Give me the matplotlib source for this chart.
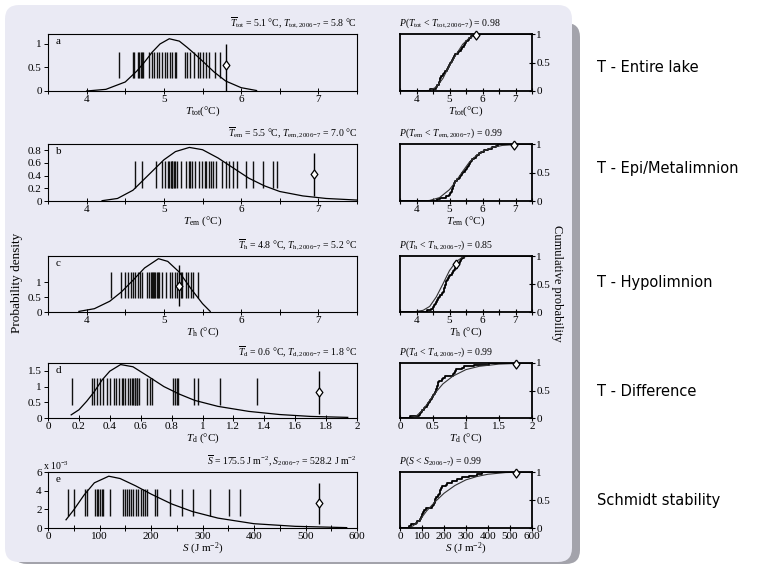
# bootstrap distributions of lake temperature and Schmidt stability

import matplotlib.pyplot as plt
import numpy as np
from matplotlib.patches import FancyBboxPatch
from matplotlib.transforms import IdentityTransform

plt.rcParams['font.family'] = 'Liberation Serif'
plt.rcParams['mathtext.fontset'] = 'custom'
plt.rcParams['mathtext.rm'] = 'Liberation Serif'
plt.rcParams['mathtext.it'] = 'Liberation Serif:italic'
plt.rcParams['font.size'] = 8

# ---- data ----
# sampled values (rug lines)
tot_samples = [4.42, 4.60, 4.61, 4.67, 4.68, 4.70, 4.72, 4.73, 4.81, 4.84, 4.87, 4.91, 4.94,
               4.97, 5.01, 5.04, 5.08, 5.10, 5.14, 5.16, 5.27, 5.30, 5.34, 5.39, 5.44, 5.47,
               5.51, 5.55, 5.59, 5.66, 5.73]
em_samples = [4.62, 4.72, 4.90, 4.98, 5.02, 5.05, 5.07, 5.09, 5.10, 5.11, 5.13, 5.15, 5.17,
              5.22, 5.29, 5.32, 5.34, 5.37, 5.40, 5.46, 5.49, 5.53, 5.55, 5.58, 5.61, 5.64,
              5.68, 5.75, 5.81, 5.84, 5.90, 5.95, 6.06, 6.16, 6.28, 6.41, 6.46]
h_samples = [4.31, 4.45, 4.50, 4.54, 4.57, 4.60, 4.63, 4.66, 4.69, 4.72, 4.78, 4.81, 4.83,
             4.84, 4.86, 4.875, 4.89, 4.905, 4.92, 4.94, 4.97, 5.03, 5.08, 5.11, 5.15, 5.17,
             5.22, 5.24, 5.28, 5.31, 5.35, 5.38, 5.44]
d_samples = [0.158, 0.288, 0.298, 0.314, 0.335, 0.357, 0.383, 0.404, 0.426, 0.443, 0.458,
             0.476, 0.486, 0.499, 0.515, 0.530, 0.541, 0.551, 0.560, 0.566, 0.573, 0.579,
             0.586, 0.638, 0.659, 0.675, 0.806, 0.822, 0.832, 0.843, 0.945, 0.973, 1.114, 1.351]
s_samples = [39, 50, 71, 76, 92, 95, 98, 101, 104, 107, 120, 145, 149, 153, 157, 161, 165,
             171, 175, 180, 184, 188, 193, 208, 212, 237, 261, 282, 315, 351, 373]

# fitted probability densities (s density in units of 1e-3)
tot_pdf_x = [4.0, 4.25, 4.5, 4.65, 4.75, 4.85, 4.95, 5.07, 5.2, 5.3, 5.4, 5.5, 5.65, 5.8, 6.0, 6.2]
tot_pdf_y = [0.0, 0.035, 0.19, 0.42, 0.61, 0.82, 0.99, 1.10, 1.05, 0.92, 0.78, 0.63, 0.40, 0.21, 0.07, 0.01]
em_pdf_x = [4.2, 4.4, 4.6, 4.8, 5.0, 5.15, 5.33, 5.5, 5.7, 5.9, 6.1, 6.3, 6.5, 6.8, 7.1, 7.5]
em_pdf_y = [0.005, 0.04, 0.17, 0.41, 0.65, 0.78, 0.846, 0.81, 0.68, 0.52, 0.36, 0.24, 0.15, 0.08, 0.04, 0.015]
h_pdf_x = [3.9, 4.1, 4.3, 4.45, 4.6, 4.75, 4.93, 5.05, 5.2, 5.35, 5.5, 5.6]
h_pdf_y = [0.02, 0.11, 0.36, 0.67, 1.06, 1.47, 1.78, 1.69, 1.33, 0.78, 0.28, 0.02]
d_pdf_x = [0.15, 0.2, 0.25, 0.3, 0.35, 0.4, 0.47, 0.55, 0.65, 0.75, 0.85, 0.95, 1.1, 1.3, 1.5, 1.7, 1.94]
d_pdf_y = [0.1, 0.26, 0.53, 0.84, 1.21, 1.49, 1.70, 1.63, 1.32, 1.0, 0.76, 0.56, 0.37, 0.21, 0.11, 0.05, 0.02]
s_pdf_x = [35, 50, 70, 90, 118, 140, 170, 200, 240, 280, 330, 400, 480, 580]
s_pdf_y = [0.88, 1.94, 3.53, 4.84, 5.55, 5.30, 4.52, 3.64, 2.58, 1.77, 1.06, 0.46, 0.18, 0.04]

# fitted cumulative distributions
tot_cdf_x = [4.0, 4.4, 4.6, 4.8, 5.0, 5.2, 5.4, 5.6, 5.8, 6.0, 6.2]
tot_cdf_y = [0.0, 0.01, 0.07, 0.22, 0.45, 0.64, 0.82, 0.93, 0.98, 0.995, 1.0]
em_cdf_x = [4.2, 4.4, 4.7, 5.0, 5.2, 5.4, 5.6, 5.8, 6.0, 6.3, 6.6, 7.0, 7.5]
em_cdf_y = [0.0, 0.01, 0.06, 0.2, 0.35, 0.52, 0.68, 0.79, 0.87, 0.94, 0.975, 0.99, 1.0]
h_cdf_x = [3.9, 4.2, 4.4, 4.6, 4.8, 5.0, 5.2, 5.4, 5.6]
h_cdf_y = [0.0, 0.03, 0.1, 0.27, 0.5, 0.74, 0.9, 0.98, 1.0]
d_cdf_x = [0.15, 0.25, 0.35, 0.45, 0.55, 0.65, 0.8, 1.0, 1.2, 1.5, 1.94]
d_cdf_y = [0.0, 0.04, 0.15, 0.32, 0.48, 0.62, 0.76, 0.88, 0.94, 0.98, 1.0]
s_cdf_x = [35, 60, 90, 120, 160, 200, 250, 300, 350, 400, 480, 580]
s_cdf_y = [0.0, 0.04, 0.14, 0.3, 0.47, 0.62, 0.76, 0.86, 0.92, 0.96, 0.99, 1.0]

# 2006-7 observation: x, error bar low/high, marker height, and P(X < x_2006-7)
observed = [5.80, 6.94, 5.19, 1.756, 527]
obs_low = [0.0, 0.08, 0.20, 0.14, 0.46]
obs_high = [1.0, 0.76, 1.58, 1.49, 4.83]
obs_mid = [0.55, 0.42, 0.88, 0.82, 2.65]
obs_prob = [0.98, 0.99, 0.85, 0.99, 0.99]

# rug line extent
rug_low = [0.28, 0.21, 0.47, 0.40, 1.33]
rug_high = [0.82, 0.635, 1.33, 1.26, 4.13]

titles = [r'$\overline{T}_{\rm tot}$ = 5.1 °C, $T_{\rm tot,2006\!-\!7}$ = 5.8 °C',
          r'$\overline{T}_{\rm em}$ = 5.5 °C, $T_{\rm em,2006\!-\!7}$ = 7.0 °C',
          r'$\overline{T}_{\rm h}$ = 4.8 °C, $T_{\rm h,2006\!-\!7}$ = 5.2 °C',
          r'$\overline{T}_{\rm d}$ = 0.6 °C, $T_{\rm d,2006\!-\!7}$ = 1.8 °C',
          r'$\overline{S}$ = 175.5 J m$^{-2}$, $S_{2006\!-\!7}$ = 528.2 J m$^{-2}$']
prob_titles = [r'$P(T_{\rm tot}$ < $T_{\rm tot,2006\!-\!7})$ = 0.98',
               r'$P(T_{\rm em}$ < $T_{\rm em,2006\!-\!7})$ = 0.99',
               r'$P(T_{\rm h}$ < $T_{\rm h,2006\!-\!7})$ = 0.85',
               r'$P(T_{\rm d}$ < $T_{\rm d,2006\!-\!7})$ = 0.99',
               r'$P(S$ < $S_{2006\!-\!7})$ = 0.99']
xlabels = [r'$T_{\rm tot}$(°C)', r'$T_{\rm em}$ (°C)', r'$T_{\rm h}$ (°C)',
           r'$T_{\rm d}$ (°C)', r'$S$ (J m$^{-2}$)']
panel_letters = ['a', 'b', 'c', 'd', 'e']
row_names = ['T - Entire lake', 'T - Epi/Metalimnion', 'T - Hypolimnion',
             'T - Difference', 'Schmidt stability']

xlims = [(3.5, 7.5), (3.5, 7.5), (3.5, 7.5), (0, 2), (0, 600)]
ylims = [(0, 1.2), (0, 0.9), (0, 1.87), (0, 1.75), (0, 6)]
yticks = [[0, 0.5, 1], [0, 0.2, 0.4, 0.6, 0.8], [0, 0.5, 1], [0, 0.5, 1, 1.5], [0, 2, 4, 6]]
ytick_labels = [['0', '0.5', '1'], ['0', '0.2', '0.4', '0.6', '0.8'], ['0', '0.5', '1'],
                ['0', '0.5', '1', '1.5'], ['0', '2', '4', '6']]

samples = [tot_samples, em_samples, h_samples, d_samples, s_samples]
pdf_x = [tot_pdf_x, em_pdf_x, h_pdf_x, d_pdf_x, s_pdf_x]
pdf_y = [tot_pdf_y, em_pdf_y, h_pdf_y, d_pdf_y, s_pdf_y]
cdf_x = [tot_cdf_x, em_cdf_x, h_cdf_x, d_cdf_x, s_cdf_x]
cdf_y = [tot_cdf_y, em_cdf_y, h_cdf_y, d_cdf_y, s_cdf_y]

# ---- layout (pixels) ----
W, H = 763, 566
rows = [(34, 91), (144, 201), (256, 312), (363, 418), (472, 528)]
row_text_y = [67, 168, 283, 391, 500]

fig = plt.figure(figsize=(W / 100, H / 100), dpi=100)

# rounded background panel with shadow
shadow = FancyBboxPatch((13, 2), 567, 541, boxstyle='round,pad=0,rounding_size=14',
                        transform=IdentityTransform(), facecolor='#a3a3ab', edgecolor='none', zorder=-3)
panel = FancyBboxPatch((5, 4), 567, 557, boxstyle='round,pad=0,rounding_size=14',
                       transform=IdentityTransform(), facecolor='#eaeaf4', edgecolor='none', zorder=-2)
fig.add_artist(shadow)
fig.add_artist(panel)

diamond = [(0, 1), (0.75, 0), (0, -1), (-0.75, 0), (0, 1)]


def px_axes(x0, y0, x1, y1):
    return fig.add_axes([x0 / W, 1 - y1 / H, (x1 - x0) / W, (y1 - y0) / H])


def set_xticks(ax, i):
    if i < 3:
        ax.set_xticks([4, 5, 6, 7])
        ax.set_xticks(np.arange(3.5, 7.6, 0.5), minor=True)
    elif i == 3:
        ax.set_xticks(np.arange(0, 2.01, 0.2))
        ax.set_xticklabels(['0', '0.2', '0.4', '0.6', '0.8', '1', '1.2', '1.4', '1.6', '1.8', '2'])
    else:
        ax.set_xticks(np.arange(0, 601, 100))
        ax.set_xticks(np.arange(50, 600, 100), minor=True)


for i in range(5):
    y0, y1 = rows[i]

    # left: probability density with rug of samples
    ax = px_axes(48, y0, 357, y1)
    ax.set_facecolor('none')
    ax.vlines(samples[i], rug_low[i], rug_high[i], color='#111111', lw=1.0)
    ax.plot(pdf_x[i], pdf_y[i], color='k', lw=0.9)
    ax.vlines(observed[i], obs_low[i], obs_high[i], color='k', lw=1.0)
    ax.plot(observed[i], obs_mid[i], marker=diamond, ms=6.5, mfc='white', mec='k', mew=0.9)
    ax.set_xlim(xlims[i])
    ax.set_ylim(ylims[i])
    set_xticks(ax, i)
    ax.set_yticks(yticks[i])
    ax.set_yticklabels(ytick_labels[i])
    ax.tick_params(axis='x', which='both', direction='inout', length=4, width=0.7, pad=1)
    ax.tick_params(axis='y', direction='out', length=3, width=0.7, pad=1.5)
    for s in ax.spines.values():
        s.set_linewidth(0.8)
    ax.set_xlabel(xlabels[i], labelpad=0)
    ax.text(1.0, 1.07, titles[i], transform=ax.transAxes, ha='right', va='bottom', fontsize=7)
    ax.text(0.025, 0.86, panel_letters[i], transform=ax.transAxes, ha='left', va='center')
    if i == 4:
        ax.text(-0.015, 1.0, r'x 10$^{-3}$', transform=ax.transAxes, ha='left', va='bottom',
                fontsize=7)

    # right: cumulative probability
    ax2 = px_axes(400, y0, 532, y1)
    ax2.set_facecolor('none')
    xs = np.sort(samples[i])
    ps = np.arange(1, len(xs) + 1) / len(xs)
    ax2.plot(np.r_[xlims[i][0], xs, xlims[i][1]], np.r_[0, ps, 1], drawstyle='steps-post',
             color='k', lw=1.3)
    ax2.plot(cdf_x[i], cdf_y[i], color='#333333', lw=0.8)
    ax2.plot(observed[i], obs_prob[i], marker=diamond, ms=6.5, mfc='white', mec='k', mew=0.9,
             clip_on=False, zorder=5)
    ax2.set_xlim(xlims[i])
    ax2.set_ylim(0, 1)
    if i < 3:
        set_xticks(ax2, i)
    elif i == 3:
        ax2.set_xticks([0, 0.5, 1, 1.5, 2])
        ax2.set_xticklabels(['0', '0.5', '1', '1.5', '2'])
    else:
        ax2.set_xticks(np.arange(0, 601, 100))
    ax2.yaxis.tick_right()
    ax2.set_yticks([0, 0.5, 1])
    ax2.set_yticklabels(['0', '0.5', '1'])
    ax2.tick_params(axis='both', which='both', direction='inout', length=4, width=0.8, pad=1)
    for s in ax2.spines.values():
        s.set_linewidth(1.3)
    ax2.set_xlabel(xlabels[i], labelpad=0)
    ax2.text(-0.01, 1.07, prob_titles[i], transform=ax2.transAxes, ha='left', va='bottom',
             fontsize=7)

    fig.text(597 / W, 1 - row_text_y[i] / H, row_names[i], family='DejaVu Sans', fontsize=10.5,
             va='center', ha='left')

fig.text(17 / W, 1 - 283 / H, 'Probability density', rotation=90, ha='center', va='center',
         fontsize=9.5)
fig.text(557 / W, 1 - 283 / H, 'Cumulative probability', rotation=270, ha='center', va='center',
         fontsize=9)

fig.savefig('out.png', dpi=100)
